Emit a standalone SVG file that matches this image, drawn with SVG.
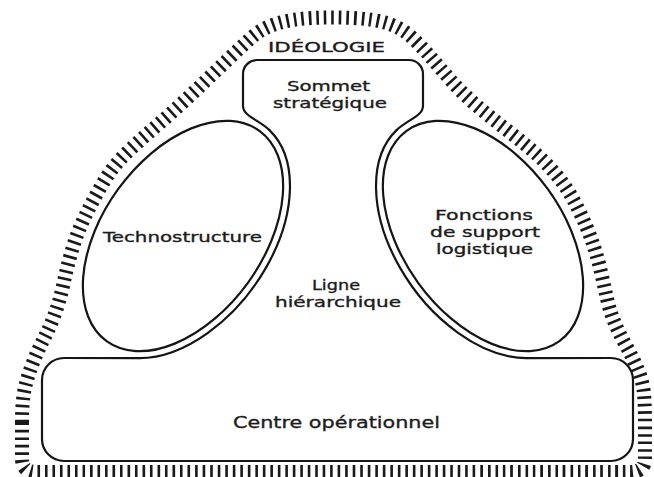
<svg xmlns="http://www.w3.org/2000/svg" width="654" height="477" viewBox="0 0 654 477">
  <style>
    .line { fill: none; stroke: #151515; stroke-width: 2.2; stroke-linejoin: round; stroke-linecap: round; }
    .halo { fill: none; stroke: #1a1a1a; stroke-width: 14; stroke-dasharray: 2.6 4.9; }
    .lbl { font-family: "DejaVu Sans", "Liberation Sans", sans-serif; font-size: 14.5px; fill: #1c1c1c; stroke: #1c1c1c; stroke-width: 0.35; }
  </style>
  <rect width="654" height="477" fill="#ffffff"/>

  <!-- Ideology: hatched halo wrapped around the whole organisation -->
  <g id="ideologie">
    <path class="halo" d="M 22,422.5 Q 22,400 25,387.5 Q 28,375 33,362.5 Q 38,350 44,338.5 Q 50,327 55,313.5 Q 60,300 63.5,283.5 Q 67,267 72,250 Q 77,233 85,216.5 Q 93,200 103,183 Q 113,166 126.5,153 Q 140,140 153.5,128.5 Q 167,117 180,105 Q 193,93 205,81.5 Q 217,70 228.5,59 Q 240,48 251,38 Q 262,28 277,23.5 Q 292,19 312,18 Q 332,17 353,18 Q 374,19 388,23.5 Q 402,28 412.5,38 Q 423,48 431.5,58 Q 440,68 451,80.5 Q 462,93 476,105 Q 490,117 505,128.5 Q 520,140 533.5,151.5 Q 547,163 558.5,177.5 Q 570,192 578.5,209.5 Q 587,227 592,241 Q 597,255 600.5,270 Q 604,285 607,298.5 Q 610,312 615,323.5 Q 620,335 626.5,346.5 Q 633,358 638,370 Q 643,382 644,393.5 Q 645,405 645,425 Q 645,445 645,458.5 Q 645,472 630,472 Q 615,472 476,472 Q 337,472 193.5,472 Q 50,472 36,472 Q 22,472 22,458.5 Q 22,445 22,422.5 Z"/>
    <text class="lbl" x="268" y="52" textLength="117" lengthAdjust="spacingAndGlyphs">IDÉOLOGIE</text>
  </g>

  <!-- Strategic apex -->
  <g id="sommet-strategique">
    <path class="line" d="M 269.4,130.1 C 259,120 243,116 243,106 L 243,74 A 14 14 0 0 1 257,60 L 409,60 A 14 14 0 0 1 423,74 L 423,106 C 423,116 407,120 396.6,130.1"/>
    <text class="lbl" x="287" y="91" textLength="83" lengthAdjust="spacingAndGlyphs">Sommet</text>
    <text class="lbl" x="273" y="108" textLength="114" lengthAdjust="spacingAndGlyphs">stratégique</text>
  </g>

  <!-- Middle line: outline running alongside both staff ellipses -->
  <g id="ligne-hierarchique">
    <path class="line" d="M 139.4,358.1 A 87 137 36 0 0 269.4,130.1"/>
    <path class="line" d="M 396.6,130.1 A 87 137 -36 0 0 526.6,358.1"/>
    <text class="lbl" x="312" y="290" textLength="48" lengthAdjust="spacingAndGlyphs">Ligne</text>
    <text class="lbl" x="275" y="307" textLength="126" lengthAdjust="spacingAndGlyphs">hiérarchique</text>
  </g>

  <!-- Technostructure -->
  <g id="technostructure">
    <ellipse class="line" cx="183" cy="236" rx="80" ry="130" transform="rotate(36 183 236)"/>
    <text class="lbl" x="103" y="242" textLength="159" lengthAdjust="spacingAndGlyphs">Technostructure</text>
  </g>

  <!-- Support staff -->
  <g id="fonctions-support">
    <ellipse class="line" cx="483" cy="236" rx="80" ry="130" transform="rotate(-36 483 236)"/>
    <text class="lbl" x="435" y="220" textLength="98" lengthAdjust="spacingAndGlyphs">Fonctions</text>
    <text class="lbl" x="430" y="237" textLength="110" lengthAdjust="spacingAndGlyphs">de support</text>
    <text class="lbl" x="436" y="254" textLength="97" lengthAdjust="spacingAndGlyphs">logistique</text>
  </g>

  <!-- Operating core -->
  <g id="centre-operationnel">
    <path class="line" d="M 526.6,358.1 L 611,358 A 22 22 0 0 1 633,380 L 633,439 A 22 22 0 0 1 611,461 L 64,461 A 22 22 0 0 1 42,439 L 42,380 A 22 22 0 0 1 64,358 L 139.4,358.1"/>
    <text class="lbl" x="233" y="428" style="font-size:16.5px" textLength="207" lengthAdjust="spacingAndGlyphs">Centre opérationnel</text>
  </g>
</svg>
